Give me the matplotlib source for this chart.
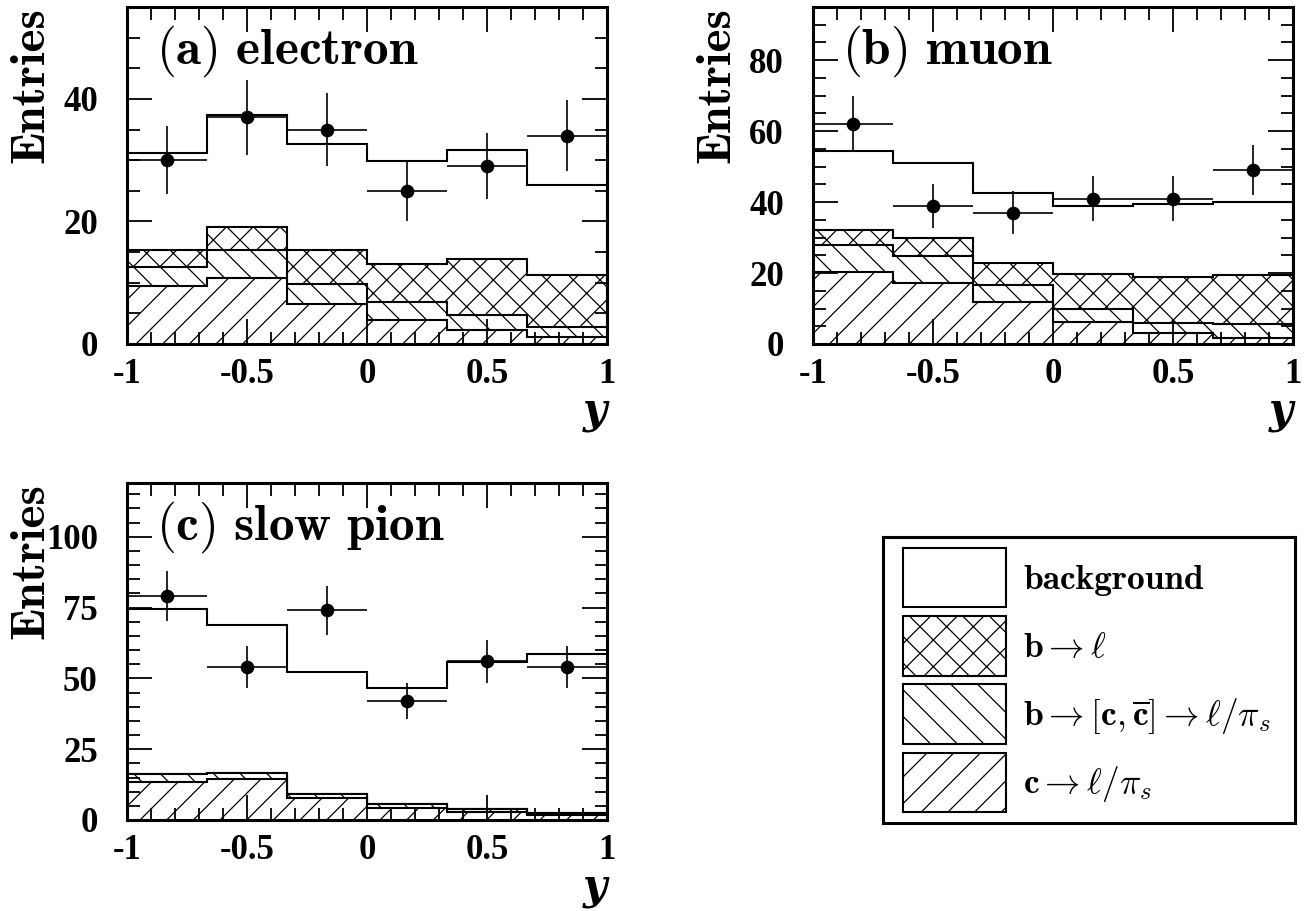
import matplotlib
matplotlib.use('Agg')
import matplotlib.pyplot as plt
from matplotlib.patches import Patch
from matplotlib.ticker import MultipleLocator, FixedLocator
import numpy as np

# lower dpi gives a denser hatch tile; sizes below are scaled to keep pixel sizes
DPI = 80
S = 100.0 / DPI

plt.rcParams['font.family'] = ['cmb10', 'DejaVu Serif']
plt.rcParams['mathtext.fontset'] = 'cm'
plt.rcParams['axes.unicode_minus'] = False
plt.rcParams['hatch.linewidth'] = 0.9 * S
plt.rcParams['hatch.color'] = 'black'

edges = [-1.0, -2 / 3, -1 / 3, 0.0, 1 / 3, 2 / 3, 1.0]
xticks = [-1, -0.5, 0, 0.5, 1]
xticklabels = ['-1', '-0.5', '0', '0.5', '1']

# (a) electron
e_data = [30, 37, 35, 25, 29, 34]
e_err = [5.5, 6.1, 5.9, 5.0, 5.4, 5.8]
e_c = [9.4, 10.8, 6.5, 3.9, 2.3, 1.1]         # c -> l/pi_s
e_bc = [3.2, 4.5, 3.3, 2.9, 2.5, 1.6]         # b -> [c,cbar] -> l/pi_s
e_bl = [2.8, 3.8, 5.5, 6.3, 9.1, 8.5]         # b -> l
e_bg = [15.8, 18.3, 17.3, 16.7, 17.7, 14.8]   # background

# (b) muon
m_data = [62, 39, 37, 41, 41, 49]
m_err = [7.9, 6.2, 6.1, 6.4, 6.4, 7.0]
m_c = [20.4, 17.3, 11.9, 6.3, 3.2, 1.6]
m_bc = [7.5, 7.5, 4.7, 3.5, 2.8, 4.0]
m_bl = [4.3, 5.0, 6.1, 9.9, 12.9, 13.9]
m_bg = [22.2, 21.3, 19.8, 19.2, 20.5, 20.4]

# (c) slow pion
p_data = [79, 54, 74, 42, 56, 54]
p_err = [8.9, 7.3, 8.6, 6.5, 7.5, 7.3]
p_c = [13.4, 14.4, 7.6, 4.4, 2.8, 1.6]
p_bc = [2.7, 2.3, 1.5, 1.1, 1.2, 1.0]
p_bl = [0, 0, 0, 0, 0, 0]
p_bg = [58.3, 52.0, 43.1, 41.1, 51.9, 56.1]

legend_labels = ['background',
                 r'$\mathbf{b}\rightarrow\ell$',
                 r'$\mathbf{b}\rightarrow[\mathbf{c},\overline{\mathbf{c}}]\rightarrow\ell/\pi_s$',
                 r'$\mathbf{c}\rightarrow\ell/\pi_s$']
hatches = ['', 'x', '\\', '/']

LW = 1.5 * S


def draw_panel(ax, data, err, c, bc, bl, bg, ymax, ymajor, title):
    e = np.array(edges)
    lay1 = np.array(c)
    lay2 = lay1 + np.array(bc)
    lay3 = lay2 + np.array(bl)
    lay4 = lay3 + np.array(bg)
    ax.stairs(lay4, e, baseline=0, fill=False, color='black', lw=LW)
    ax.stairs(lay3, e, baseline=0, fill=True, facecolor='white',
              edgecolor='black', hatch='x', lw=LW)
    ax.stairs(lay2, e, baseline=0, fill=True, facecolor='white',
              edgecolor='black', hatch='\\', lw=LW)
    ax.stairs(lay1, e, baseline=0, fill=True, facecolor='white',
              edgecolor='black', hatch='/', lw=LW)
    centers = 0.5 * (e[1:] + e[:-1])
    half = 0.5 * (e[1:] - e[:-1])
    ax.errorbar(centers, data, yerr=err, xerr=half, fmt='o', color='black',
                ms=9 * S, elinewidth=1.2 * S, capsize=0, zorder=5)

    ax.set_xlim(-1, 1)
    ax.set_ylim(0, ymax)
    ax.xaxis.set_major_locator(FixedLocator(xticks))
    ax.set_xticklabels(xticklabels)
    ax.xaxis.set_minor_locator(MultipleLocator(0.1))
    ax.yaxis.set_major_locator(MultipleLocator(ymajor))
    ax.yaxis.set_minor_locator(MultipleLocator(5))
    ax.tick_params(which='both', direction='in', top=True, right=True,
                   width=1.3 * S, labelsize=25 * S)
    ax.tick_params(which='major', length=18 * S)
    ax.tick_params(which='minor', length=9 * S)
    ax.tick_params(axis='x', pad=10 * S)
    ax.tick_params(axis='y', pad=21 * S)
    for lab in ax.get_xticklabels() + ax.get_yticklabels():
        lab.set_family('Liberation Serif')
        lab.set_weight('bold')
    for sp in ax.spines.values():
        sp.set_linewidth(2.2 * S)

    ax.text(-0.2, 1.0, 'Entries', rotation=90, ha='center', va='top',
            fontsize=35.5 * S, transform=ax.transAxes)
    ax.text(1.0, -0.2, 'y', ha='right', va='center', fontsize=30 * S,
            family='DejaVu Serif', style='italic', weight='bold',
            transform=ax.transAxes)
    ax.text(0.06, 0.87, title, ha='left', va='center', fontsize=37 * S,
            transform=ax.transAxes)


fig = plt.figure(figsize=(1313 / DPI, 911 / DPI), dpi=DPI)
ax_a = fig.add_axes([0.0967, 0.6224, 0.3656, 0.3699])
ax_b = fig.add_axes([0.6192, 0.6224, 0.3656, 0.3699])
ax_c = fig.add_axes([0.0967, 0.0999, 0.3656, 0.3699])

draw_panel(ax_a, e_data, e_err, e_c, e_bc, e_bl, e_bg, 55, 20,
           r'$\mathbf{(a)\ electron}$')
draw_panel(ax_b, m_data, m_err, m_c, m_bc, m_bl, m_bg, 95, 20,
           r'$\mathbf{(b)\ muon}$')
draw_panel(ax_c, p_data, p_err, p_c, p_bc, p_bl, p_bg, 119, 25,
           r'$\mathbf{(c)\ slow\ pion}$')

# legend box
ax_l = fig.add_axes([0.6725, 0.0966, 0.3138, 0.3139])
ax_l.set_xticks([])
ax_l.set_yticks([])
for sp in ax_l.spines.values():
    sp.set_linewidth(2.2 * S)
handles = [Patch(facecolor='white', edgecolor='black', hatch=h, lw=1.5 * S)
           for h in hatches]
ax_l.legend(handles, legend_labels, loc='center left', bbox_to_anchor=(0, 0.5),
            frameon=False, fontsize=25.5 * S, handlelength=2.9, handleheight=2.2,
            labelspacing=0.25, handletextpad=0.5, borderpad=0,
            borderaxespad=0.56)

fig.savefig('out.png', dpi=DPI)
